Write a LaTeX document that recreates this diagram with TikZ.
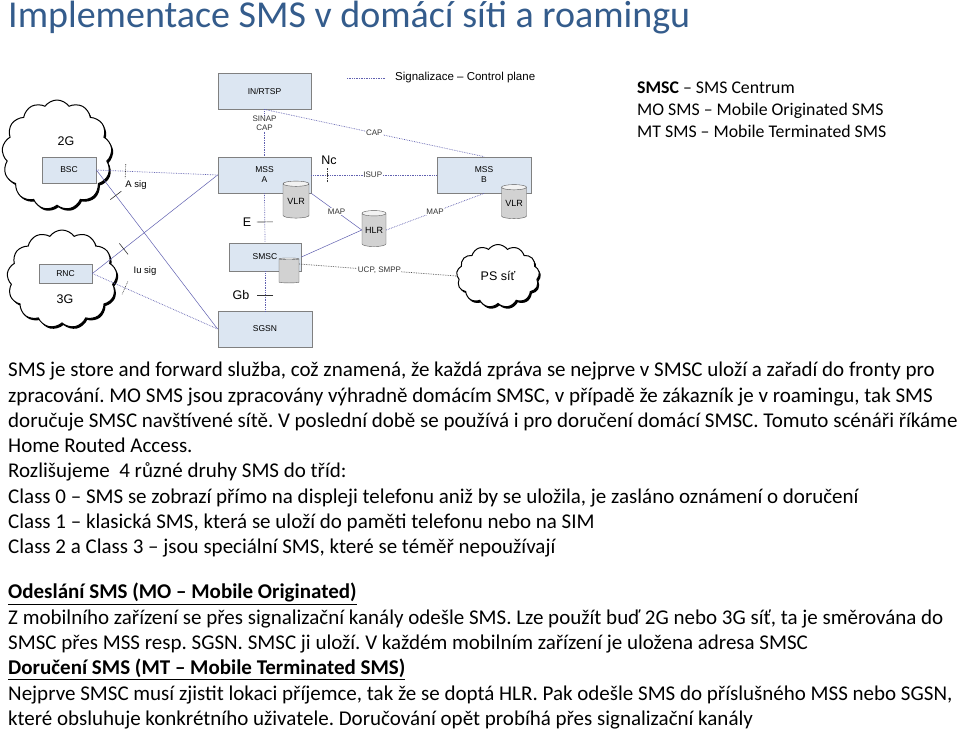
\documentclass[tikz,border=0pt]{standalone}
\usepackage{fontspec}
\setmainfont{Carlito}
\newfontfamily\arialfont[Ligatures=TeX]{Liberation Sans}
\usetikzlibrary{shapes.geometric,shapes.symbols,shadows}
\frenchspacing

\definecolor{titleblue}{RGB}{52,92,140}
\definecolor{sigline}{RGB}{96,96,176}
\definecolor{boxfill}{RGB}{220,230,242}
\definecolor{boxline}{RGB}{128,128,128}

\tikzset{
  netbox/.style={draw=boxline, fill=boxfill, line width=0.8pt, inner sep=0pt,
    align=center, font=\arialfont\fontsize{8.5}{10}\selectfont},
  dbase/.style={cylinder, shape border rotate=90, aspect=0.3, draw=gray!70!black,
    cylinder uses custom fill, cylinder body fill=gray!35, cylinder end fill=gray!10,
    inner sep=0pt, font=\arialfont\fontsize{9}{10}\selectfont},
  netcloud/.style={cloud, cloud puffs=13, cloud puff arc=110, aspect=1, draw=black,
    line width=1pt, fill=white, inner sep=0pt,
    drop shadow={shadow xshift=1.5pt, shadow yshift=-2pt, fill=black, opacity=1}},
  sig/.style={sigline, densely dotted, line width=0.7pt},
  link/.style={sigline, line width=0.5pt},
  tickmark/.style={draw=gray!40!black, line width=0.6pt, inner sep=0pt,
    minimum width=0pt, minimum height=14pt, sloped},
  ilabel/.style={font=\arialfont\fontsize{8}{9}\selectfont, text=black!80, fill=white, inner sep=0.5pt},
  blabel/.style={font=\arialfont\fontsize{12.5}{14}\selectfont},
  slabel/.style={font=\arialfont\fontsize{9.5}{11}\selectfont},
  bodytext/.style={anchor=north west, inner sep=0pt, align=left,
    font=\fontsize{21}{25.3}\selectfont},
}

\begin{document}
\begin{tikzpicture}[x=1pt,y=-1pt]
  \useasboundingbox[fill=white] (0,0) rectangle (960,729);

  % title
  \node[anchor=base west, inner sep=0pt, text=titleblue,
    font=\fontsize{38}{44}\selectfont] (title) at (8,27) {Implementace SMS v domácí síti a roamingu};

  % clouds
  \node[netcloud, minimum width=110pt, minimum height=110pt] (cloud2g) at (57,155) {};
  \node[netcloud, minimum width=110pt, minimum height=98pt] (cloud3g) at (62,279) {};
  \node[netcloud, minimum width=83pt, minimum height=63pt, blabel] (pscloud) at (498,276) {PS síť};
  \node[blabel] (lab2g) at (66,141) {2G};
  \node[blabel] (lab3g) at (65,299) {3G};

  % network elements
  \node[netbox, minimum width=54pt, minimum height=26pt] (bsc) at (69,170) {BSC};
  \node[netbox, minimum width=53pt, minimum height=19pt] (rnc) at (65.5,273.5) {RNC};
  \node[netbox, minimum width=93pt, minimum height=36pt] (inrtsp) at (264.5,91) {IN/RTSP};
  \node[netbox, minimum width=93pt, minimum height=36pt] (mssa) at (264.5,175) {MSS\\A};
  \node[netbox, minimum width=94pt, minimum height=36pt] (mssb) at (484,175) {MSS\\B};
  \node[netbox, minimum width=72pt, minimum height=28pt] (smsc) at (265,257) {SMSC};
  \node[netbox, minimum width=94pt, minimum height=36pt] (sgsn) at (265,329) {SGSN};

  % databases
  \node[dbase, minimum width=26pt, minimum height=37pt] (vlra) at (296,201) {VLR};
  \node[dbase, minimum width=25pt, minimum height=34pt] (vlrb) at (514,203) {VLR};
  \node[dbase, minimum width=24pt, minimum height=36pt] (hlr) at (374,230) {HLR};
  \node[dbase, minimum width=20pt, minimum height=25pt] (smscdb) at (289,271) {\phantom{V}};

  % access side
  \draw[sig] (bsc.east) -- node[pos=0.24, tickmark] {} (mssa.west);
  \draw[link] (bsc.east) -- node[pos=0.16, tickmark] {} (sgsn.west);
  \draw[link] (rnc.east) -- node[pos=0.25, tickmark] {} (mssa.west);
  \draw[sig] (rnc.east) -- node[pos=0.26, tickmark] {} (sgsn.west);
  \node[slabel] (asig) at (136,185) {A sig};
  \node[slabel] (iusig) at (145,271) {Iu sig};

  % core
  \draw[sig] (inrtsp.south) -- (mssa.north);
  \node[ilabel, align=center] (sinap) at (264.5,123.5) {SINAP\\CAP};
  \draw[sig] (inrtsp.south) -- node[pos=0.5, ilabel] {CAP} (mssb.north);
  \draw[sig] (mssa.east) -- node[pos=0.13, tickmark] {} node[pos=0.49, ilabel] {ISUP} (mssb.west);
  \node[blabel] (nc) at (329,160) {Nc};
  \draw[link] (mssa.south east) -- node[pos=0.5, ilabel] {MAP} (hlr.west);
  \draw[sig] (mssb.south) -- node[pos=0.5, ilabel] {MAP} (hlr.east);
  \draw[sig] (mssa.south) -- node[pos=0.58, tickmark, minimum height=16pt] {} (smsc.north);
  \node[blabel] (labe) at (247,222) {E};
  \draw[sig] (smsc.south) -- node[pos=0.6, tickmark, minimum height=16pt] {} (sgsn.north);
  \node[blabel] (labgb) at (241,295) {Gb};
  \draw[link] (hlr.west) -- (smsc.east);
  \draw[densely dotted, gray!60!black, line width=0.7pt] ([yshift=7pt]smscdb.east)
    -- node[pos=0.51, ilabel] {UCP, SMPP} (pscloud.west);

  % legend
  \coordinate (lega) at (347,78);
  \coordinate (legb) at (385,78);
  \draw[sig] (lega) -- (legb);
  \node[anchor=west, inner sep=0pt, font=\arialfont\fontsize{11.5}{13}\selectfont] (legtext) at (395,78) {Signalizace – Control plane};

  \node[anchor=west, inner sep=0pt, align=left, font=\fontsize{17.8}{22}\selectfont] (abbrev) at (637,110)
    {\textbf{SMSC} – SMS Centrum\\MO SMS – Mobile Originated SMS\\MT SMS – Mobile Terminated SMS};

  % body text
  \node[bodytext] (para1) at (8,362) {SMS je store and forward služba, což znamená, že každá zpráva se nejprve v SMSC uloží a zařadí do fronty pro\\
    zpracování. MO SMS jsou zpracovány výhradně domácím SMSC, v případě že zákazník je v roamingu, tak SMS\\
    doručuje SMSC navštívené sítě. V poslední době se používá i pro doručení domácí SMSC. Tomuto scénáři říkáme\\
    Home Routed Access.\\
    Rozlišujeme\ \ 4 různé druhy SMS do tříd:\\
    Class 0 – SMS se zobrazí přímo na displeji telefonu aniž by se uložila, je zasláno oznámení o doručení\\
    Class 1 – klasická SMS, která se uloží do paměti telefonu nebo na SIM\\
    Class 2 a Class 3 – jsou speciální SMS, které se téměř nepoužívají};
  \node[bodytext] (para2) at (8,583) {\underline{\textbf{Odeslání SMS (MO – Mobile Originated)}}\\
    Z mobilního zařízení se přes signalizační kanály odešle SMS. Lze použít buď 2G nebo 3G síť, ta je směrována do\\
    SMSC přes MSS resp. SGSN. SMSC ji uloží. V každém mobilním zařízení je uložena adresa SMSC\\
    \underline{\textbf{Doručení SMS (MT – Mobile Terminated SMS)}}\\
    Nejprve SMSC musí zjistit lokaci příjemce, tak že se doptá HLR. Pak odešle SMS do příslušného MSS nebo SGSN,\\
    které obsluhuje konkrétního uživatele. Doručování opět probíhá přes signalizační kanály};
\end{tikzpicture}
\end{document}
